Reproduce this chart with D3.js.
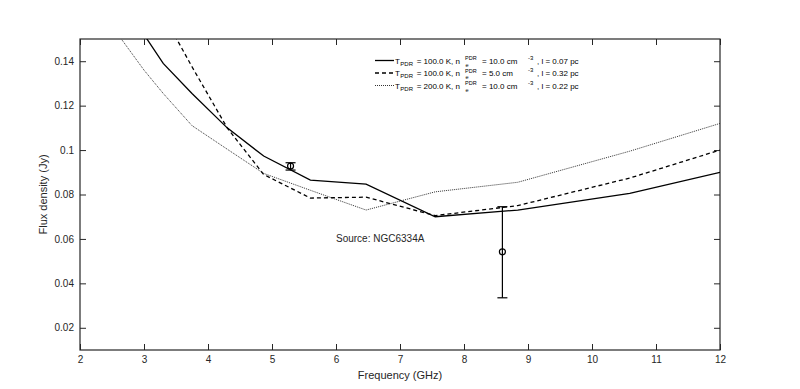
<!DOCTYPE html>
<html>
<head>
<meta charset="utf-8">
<script src="https://cdn.jsdelivr.net/npm/d3@7"></script>
<style>
  body { margin: 0; background: #fff; }
  svg { display: block; font-family: "Liberation Sans", Arial, sans-serif; }
</style>
</head>
<body>
<svg id="chart" width="800" height="389"></svg>
<script>
// frequency grid (GHz) shared by the three model curves
const freqs = [2.6, 3.0, 3.3, 3.75, 4.3, 4.87, 5.6, 6.47, 7.55, 8.84, 10.59, 12];
const fluxA = [0.169, 0.152, 0.139, 0.1255, 0.110, 0.0973, 0.0865, 0.0847, 0.0700, 0.0730, 0.0805, 0.0900];
const fluxB = [0.195, 0.176, 0.161, 0.1375, 0.110, 0.0890, 0.0784, 0.0788, 0.0705, 0.0750, 0.0874, 0.1000];
const fluxC = [0.1518, 0.136, 0.1255, 0.111, 0.1004, 0.0895, 0.0819, 0.0730, 0.0812, 0.0855, 0.0995, 0.1120];

// measured points with error bars
const obsFreq = [5.29, 8.6];
const obsFlux = [0.0928, 0.0542];
const obsLow = [0.0910, 0.0335];
const obsHigh = [0.0943, 0.0745];

const xTicks = [2, 3, 4, 5, 6, 7, 8, 9, 10, 11, 12];
const yTicks = [0.02, 0.04, 0.06, 0.08, 0.1, 0.12, 0.14];

const legendT = ['100.0', '100.0', '200.0'];
const legendN = ['10.0', ' 5.0', '10.0'];
const legendL = ['0.07', '0.32', '0.22'];

const width = 800, height = 389;
const margin = { top: 39, right: 80, bottom: 39, left: 80 };
const svg = d3.select('#chart');
const axisColor = '#262626';

const x = d3.scaleLinear().domain([2, 12]).range([margin.left, width - margin.right]);
const y = d3.scaleLinear().domain([0.01, 0.15]).range([height - margin.bottom, margin.top]);

svg.append('defs').append('clipPath').attr('id', 'clip')
  .append('rect')
  .attr('x', margin.left).attr('y', margin.top)
  .attr('width', x(12) - x(2)).attr('height', y(0.01) - y(0.15));

const styleAxis = (g) => {
  g.select('.domain').remove();
  g.selectAll('line').attr('stroke', axisColor).attr('stroke-width', 1);
  g.selectAll('text').attr('fill', axisColor).style('font-size', '10px');
};

// bottom and left axes with labels, ticks pointing inward
svg.append('g').attr('transform', `translate(0,${ y(0.01) })`)
  .call(d3.axisBottom(x).tickValues(xTicks).tickSizeInner(-6).tickSizeOuter(0).tickPadding(6)
    .tickFormat(d3.format('d')))
  .call(styleAxis);
svg.append('g').attr('transform', `translate(0,${ y(0.15) })`)
  .call(d3.axisTop(x).tickValues(xTicks).tickSizeInner(-6).tickSizeOuter(0).tickFormat(''))
  .call(styleAxis);
svg.append('g').attr('transform', `translate(${ x(2) },0)`)
  .call(d3.axisLeft(y).tickValues(yTicks).tickSizeInner(-6).tickSizeOuter(0).tickPadding(6)
    .tickFormat((d) => d === 0.1 ? '0.1' : d3.format('.2f')(d)))
  .call(styleAxis);
svg.append('g').attr('transform', `translate(${ x(12) },0)`)
  .call(d3.axisRight(y).tickValues(yTicks).tickSizeInner(-6).tickSizeOuter(0).tickFormat(''))
  .call(styleAxis);

svg.append('rect')
  .attr('x', x(2)).attr('y', y(0.15))
  .attr('width', x(12) - x(2)).attr('height', y(0.01) - y(0.15))
  .attr('fill', 'none').attr('stroke', axisColor).attr('stroke-width', 1.2);

// model curves
const line = d3.line().x((d) => x(d[0])).y((d) => y(d[1]));
const curves = [
  { vals: fluxA, dash: null, w: 1.3, c: '#000' },
  { vals: fluxB, dash: '4,3', w: 1.3, c: '#000' },
  { vals: fluxC, dash: '1,1', w: 1, c: '#333' }
];
const plot = svg.append('g').attr('clip-path', 'url(#clip)');
curves.forEach((s) => {
  plot.append('path')
    .datum(freqs.map((f, i) => [f, s.vals[i]]))
    .attr('d', line)
    .attr('fill', 'none')
    .attr('stroke', s.c)
    .attr('stroke-width', s.w)
    .attr('stroke-dasharray', s.dash);
});

// error bars
const cap = 5;
obsFreq.forEach((f, i) => {
  const g = plot.append('g').attr('stroke', '#000').attr('stroke-width', 1.2).attr('fill', 'none');
  g.append('line').attr('x1', x(f)).attr('x2', x(f)).attr('y1', y(obsLow[i])).attr('y2', y(obsHigh[i]));
  g.append('line').attr('x1', x(f) - cap).attr('x2', x(f) + cap).attr('y1', y(obsLow[i])).attr('y2', y(obsLow[i]));
  g.append('line').attr('x1', x(f) - cap).attr('x2', x(f) + cap).attr('y1', y(obsHigh[i])).attr('y2', y(obsHigh[i]));
  g.append('circle').attr('cx', x(f)).attr('cy', y(obsFlux[i])).attr('r', 3);
});

// annotation
svg.append('text')
  .attr('x', x(6)).attr('y', y(0.06)).attr('dy', '0.35em')
  .attr('fill', axisColor).style('font-size', '10px')
  .text('Source: NGC6334A');

// axis titles
svg.append('text')
  .attr('x', (x(2) + x(12)) / 2).attr('y', 379)
  .attr('text-anchor', 'middle').attr('fill', axisColor).style('font-size', '11px')
  .text('Frequency (GHz)');
svg.append('text')
  .attr('transform', `translate(47,${ (y(0.01) + y(0.15)) / 2 }) rotate(-90)`)
  .attr('text-anchor', 'middle').attr('fill', axisColor).style('font-size', '11px')
  .text('Flux density (Jy)');

// legend, pieces placed to mimic the TeX layout
const leg = svg.append('g').attr('fill', '#000').style('font-size', '8px').style('white-space', 'pre');
legendT.forEach((t, i) => {
  const yy = 60.5 + i * 12.5;
  const base = yy + 3;
  leg.append('line').attr('x1', 375).attr('x2', 394).attr('y1', yy).attr('y2', yy)
    .attr('stroke', i === 2 ? '#333' : '#000').attr('stroke-width', i === 2 ? 1 : 1.3)
    .attr('stroke-dasharray', i === 1 ? '4,3' : i === 2 ? '1,1' : null);
  leg.append('text').attr('x', 395).attr('y', base).text('T');
  leg.append('text').attr('x', 400.3).attr('y', base + 2).style('font-size', '6px').text('PDR');
  leg.append('text').attr('x', 460).attr('y', base).attr('text-anchor', 'end').text(`= ${ t } K, n`);
  leg.append('text').attr('x', 465).attr('y', base - 3.5).style('font-size', '5.5px').text('PDR');
  leg.append('text').attr('x', 465.5).attr('y', base + 3).style('font-size', '5.5px').text('e');
  leg.append('text').attr('x', 482).attr('y', base).text(`= ${ legendN[i] } cm`);
  leg.append('text').attr('x', 528).attr('y', base - 4).style('font-size', '6px').text('-3');
  leg.append('text').attr('x', 537).attr('y', base).text(`, l =  ${ legendL[i] } pc`);
});
</script>
</body>
</html>
